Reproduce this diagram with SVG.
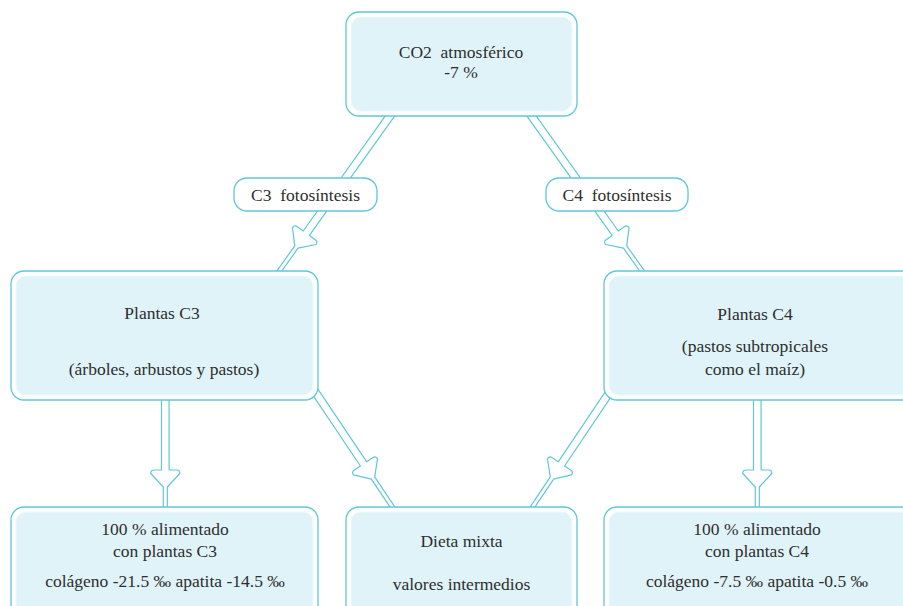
<svg xmlns="http://www.w3.org/2000/svg" width="903" height="606" viewBox="0 0 903 606">
  <style>
    .outer { fill: #ffffff; stroke: #5fc7d7; stroke-width: 1.3; }
    .inner { fill: #e0f3f8; stroke: #eef9fc; stroke-width: 1; }
    .pill { fill: #ffffff; stroke: #5fc7d7; stroke-width: 1.3; }
    .arrow { fill: #ffffff; stroke: #5fc7d7; stroke-width: 1.2; stroke-linejoin: round; }
    .t { font-size: 17.5px; fill: #2e2e2e; text-anchor: middle; }
  </style>
  <rect width="903" height="606" fill="#ffffff"/>

  <g id="connectors">
    <g transform="translate(395.8,107.9) rotate(125.54)">
      <path class="arrow" d="M0,-3.8 L154,-3.8 L154,-11.5 Q154,-14.5 157.5,-14.5 L171,-2 L207,-2 L207,2 L171,2 L157.5,14.5 Q154,14.5 154,11.5 L154,3.8 L0,3.8 Z"/>
    </g>
    <g transform="translate(525.7,107.9) rotate(54.46)">
      <path class="arrow" d="M0,-3.8 L154,-3.8 L154,-11.5 Q154,-14.5 157.5,-14.5 L171,-2 L207,-2 L207,2 L171,2 L157.5,14.5 Q154,14.5 154,11.5 L154,3.8 L0,3.8 Z"/>
    </g>
    <g transform="translate(165.3,392) rotate(90)">
      <path class="arrow" d="M0,-3.8 L78,-3.8 L78,-11.5 Q78,-14.5 81.5,-14.5 L95,-2 L123,-2 L123,2 L95,2 L81.5,14.5 Q78,14.5 78,11.5 L78,3.8 L0,3.8 Z"/>
    </g>
    <g transform="translate(757.3,392) rotate(90)">
      <path class="arrow" d="M0,-3.8 L78,-3.8 L78,-11.5 Q78,-14.5 81.5,-14.5 L95,-2 L123,-2 L123,2 L95,2 L81.5,14.5 Q78,14.5 78,11.5 L78,3.8 L0,3.8 Z"/>
    </g>
    <g transform="translate(308.4,381.7) rotate(56.14)">
      <path class="arrow" d="M0,-3.8 L99,-3.8 L99,-11.5 Q99,-14.5 102.5,-14.5 L116,-2 L159,-2 L159,2 L116,2 L102.5,14.5 Q99,14.5 99,11.5 L99,3.8 L0,3.8 Z"/>
    </g>
    <g transform="translate(616.6,381.7) rotate(123.86)">
      <path class="arrow" d="M0,-3.8 L99,-3.8 L99,-11.5 Q99,-14.5 102.5,-14.5 L116,-2 L159,-2 L159,2 L116,2 L102.5,14.5 Q99,14.5 99,11.5 L99,3.8 L0,3.8 Z"/>
    </g>
  </g>

  <g font-family="Liberation Serif, Times New Roman, serif">
  <g id="co2">
    <rect class="outer" x="346" y="12" width="231" height="104" rx="13"/>
    <rect class="inner" x="351" y="17" width="221" height="94" rx="10"/>
    <text class="t" x="461" y="58" xml:space="preserve">CO2  atmosférico</text>
    <text class="t" x="461" y="78">-7 %</text>
  </g>

  <g id="c3-foto">
    <rect class="pill" x="234" y="178" width="143" height="33" rx="13"/>
    <text class="t" x="305.5" y="201" xml:space="preserve">C3  fotosíntesis</text>
  </g>

  <g id="c4-foto">
    <rect class="pill" x="546" y="178" width="142" height="33" rx="13"/>
    <text class="t" x="617" y="201" xml:space="preserve">C4  fotosíntesis</text>
  </g>

  <g id="plantas-c3">
    <rect class="outer" x="11" y="271" width="307" height="129" rx="13"/>
    <rect class="inner" x="16" y="276" width="297" height="119" rx="10"/>
    <text class="t" x="162" y="319">Plantas C3</text>
    <text class="t" x="164" y="375">(árboles, arbustos y pastos)</text>
  </g>

  <g id="plantas-c4">
    <rect class="outer" x="604" y="271" width="312" height="129" rx="13"/>
    <rect class="inner" x="609" y="276" width="302" height="119" rx="10"/>
    <text class="t" x="755" y="320">Plantas C4</text>
    <text class="t" x="755" y="352">(pastos subtropicales</text>
    <text class="t" x="755" y="375">como el maíz)</text>
  </g>

  <g id="c3-100">
    <rect class="outer" x="11" y="507" width="307" height="115" rx="13"/>
    <rect class="inner" x="16" y="512" width="297" height="105" rx="10"/>
    <text class="t" x="165" y="535">100 % alimentado</text>
    <text class="t" x="165" y="557">con plantas C3</text>
    <text class="t" x="165" y="587">colágeno -21.5 ‰ apatita -14.5 ‰</text>
  </g>

  <g id="dieta-mixta">
    <rect class="outer" x="346" y="507" width="231" height="115" rx="13"/>
    <rect class="inner" x="351" y="512" width="221" height="105" rx="10"/>
    <text class="t" x="461.5" y="547">Dieta mixta</text>
    <text class="t" x="461.5" y="590">valores intermedios</text>
  </g>

  <g id="c4-100">
    <rect class="outer" x="604" y="507" width="312" height="115" rx="13"/>
    <rect class="inner" x="609" y="512" width="302" height="105" rx="10"/>
    <text class="t" x="757" y="535">100 % alimentado</text>
    <text class="t" x="757" y="557">con plantas C4</text>
    <text class="t" x="757" y="587">colágeno -7.5 ‰ apatita -0.5 ‰</text>
  </g>
  </g>
</svg>
